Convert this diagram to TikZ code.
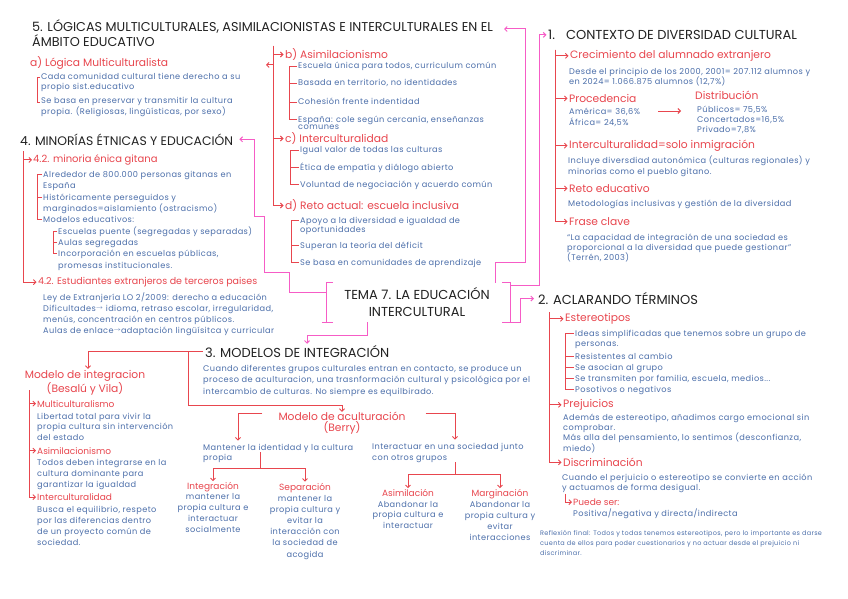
\documentclass[tikz,border=0pt]{standalone}
\usepackage{fontspec}
\setmainfont{Poppins}
\newfontfamily\bl{Poppins}[LetterSpace=5.0]
\usetikzlibrary{arrows.meta}
\definecolor{ink}{HTML}{222222}
\definecolor{rojo}{HTML}{E8464E}
\definecolor{azul}{HTML}{4C6FAA}
\definecolor{rosa}{HTML}{F65CC6}
\begin{document}
\begin{tikzpicture}[x=1pt,y=-1pt,
  >={Straight Barb[length=2.5pt,width=5pt]},
  every node/.style={inner sep=0pt,anchor=base west,align=left},
  tit/.style={text=ink,font=\fontsize{#1}{17}\selectfont},
  tit/.default=13,
  lab/.style={text=rojo,font=\fontsize{10.7}{10.5}\selectfont},
  labs/.style={text=rojo,font=\fontsize{#1}{10.5}\selectfont},
  labs/.default=9,
  txt/.style={text=azul,font=\bl\fontsize{8.2}{#1}\selectfont},
  txt/.default=11,
  rl/.style={draw=rojo,line width=0.9pt},
  pl/.style={draw=rosa,line width=1pt}]
\useasboundingbox (0,0) rectangle (848,599);
\fill[white] (0,0) rectangle (848,599);
% 5
\node[tit=12.8,font=\fontsize{12.8}{15}\selectfont] (t5) at (32,47) {5. LÓGICAS MULTICULTURALES, ASIMILACIONISTAS E INTERCULTURALES EN EL\\ÁMBITO EDUCATIVO};
\node[lab] (la) at (30,66.5) {a) Lógica Multiculturalista};
\node[txt=9.5] (a1) at (41,89.5) {Cada comunidad cultural tiene derecho a su\\propio sist.educativo};
\node[txt=9.5] (a2) at (41,114.5) {Se basa en preservar y transmitir la cultura\\propia. (Religiosas, lingüísticas, por sexo)};
\draw[rl] ([xshift=-1pt,yshift=12.5pt]a1.base west) -- ++(-3,0) |- ([xshift=-1pt,yshift=12.5pt]a2.base west);
\node[lab] (lb) at (285,58.5) {b) Asimilacionismo};
\node[txt] (b1) at (298,69) {Escuela única para todos, curriculum común};
\node[txt] (b2) at (298,86) {Basada en territorio, no identidades};
\node[txt] (b3) at (298,105) {Cohesión frente indentidad};
\node[txt=8] (b4) at (298,130) {España: cole según cercanía, enseñanzas\\comunes};
\draw[rl] ([xshift=-1.5pt,yshift=3pt]b1.base west) -- ++(-7.5,0) |- ([xshift=-1.5pt,yshift=11pt]b4.base west);
\foreach \n in {b2,b3} \draw[rl] ([xshift=-1.5pt,yshift=3pt]\n.base west) -- ++(-7.5,0);
\node[lab] (lc) at (285,142.5) {c) Interculturalidad};
\node[txt] (c1) at (300,153) {Igual valor de todas las culturas};
\node[txt] (c2) at (300,170) {Ética de empatía y diálogo abierto};
\node[txt] (c3) at (300,187) {Voluntad de negociación y acuerdo común};
\draw[rl] ([xshift=-1.5pt,yshift=3pt]c1.base west) -- ++(-8.5,0) |- ([xshift=-1.5pt,yshift=3pt]c3.base west);
\draw[rl] ([xshift=-1.5pt,yshift=3pt]c2.base west) -- ++(-8.5,0);
\node[lab] (ld) at (285,209.5) {d) Reto actual: escuela inclusiva};
\node[txt=9] (d1) at (300,232) {Apoyo a la diversidad e igualdad de\\oportunidades};
\node[txt] (d2) at (300,248) {Superan la teoría del déficit};
\node[txt] (d3) at (300,265) {Se basa en comunidades de aprendizaje};
\draw[rl] ([xshift=-1.5pt,yshift=12pt]d1.base west) -- ++(-7.5,0) |- ([xshift=-1.5pt,yshift=3pt]d3.base west);
\draw[rl] ([xshift=-1.5pt,yshift=3pt]d2.base west) -- ++(-7.5,0);
\coordinate (v5) at (273,46);
\foreach \n in {lb,lc,ld} \draw[rl,->] (v5) |- ([xshift=-1.5pt]\n.west);
\draw[rl,->] ([yshift=-2pt]v5 |- la.west) -- ++(-7,0);
% 4
\node[tit=12.4] (t4) at (20,145) {4. MINORÍAS ÉTNICAS Y EDUCACIÓN};
\node[labs=10] (l41) at (33,162.5) {4.2. minoria énica gitana};
\node[txt] (g1) at (43,188) {Alrededor de 800.000 personas gitanas en\\España};
\node[txt] (g2) at (43,211) {Históricamente perseguidos y\\marginados=aislamiento (ostracismo)};
\node[txt] (g3) at (43,222) {Modelos educativos:};
\draw[rl] ([xshift=-1pt,yshift=14pt]g1.base west) -- ++(-5,0) |- ([xshift=-1pt,yshift=3pt]g3.base west);
\draw[rl] ([xshift=-1pt,yshift=14pt]g2.base west) -- ++(-5,0);
\node[txt] (g31) at (58,234) {Escuelas puente (segregadas y separadas)};
\node[txt] (g32) at (58,245) {Aulas segregadas};
\node[txt=12] (g33) at (58,268) {Incorporación en escuelas públicas,\\promesas institucionales.};
\draw[rl] ([xshift=-1pt,yshift=3pt]g31.base west) -- ++(-4,0) |- ([xshift=-1pt,yshift=15pt]g33.base west);
\draw[rl] ([xshift=-1pt,yshift=3pt]g32.base west) -- ++(-4,0);
\node[labs=9.5] (l42) at (38,284.5) {4.2. Estudiantes extranjeros de terceros paises};
\node[txt] (e1) at (43,333) {Ley de Extranjería LO 2/2009: derecho a educación\\Dificultades\raisebox{2pt}{$\scriptstyle\rightarrow$} idioma, retraso escolar, irregularidad,\\menús, concentración en centros públicos.\\Aulas de enlace\raisebox{2pt}{$\scriptstyle\rightarrow$}adaptación lingüísitca y curricular};
\coordinate (v4) at (23,151);
\draw[rl,->] (v4) |- ([xshift=-1pt]l41.west);
\draw[rl,->] (v4) |- ([xshift=-1.5pt]l42.west);
% 1
\node[tit] (t1) at (548,39.5) {1.\hspace{11pt}CONTEXTO DE DIVERSIDAD CULTURAL};
\node[lab] (c1l) at (570,58.5) {Crecimiento del alumnado extranjero};
\node[txt=10] (c1t) at (569,85) {Desde el principio de los 2000, 2001= 207.112 alumnos y\\en 2024= 1.066.875 alumnos (12,7\%)};
\node[lab] (prl) at (569,102.5) {Procedencia};
\node[txt=10.5] (prt) at (569,125.5) {América= 36,6\%\\África= 24,5\%};
\coordinate (q0) at (658,111);
\coordinate (q1) at (681,111);
\draw[rl,->] (q0) -- (q1);
\node[lab] (dil) at (695,99.5) {Distribución};
\node[txt=10] (dit) at (697,132) {Públicos= 75,5\%\\Concertados=16,5\%\\Privado=7,8\%};
\node[lab] (inl) at (569,148.5) {Interculturalidad=solo inmigración};
\node[txt=11.5] (int) at (568,174.5) {Incluye diversdiad autonómica (culturas regionales) y\\minorías como el pueblo gitano.};
\node[lab] (rel) at (569,192.5) {Reto educativo};
\node[txt] (ret) at (568,206) {Metodologías inclusivas y gestión de la diversidad};
\node[lab] (frl) at (569,225.5) {Frase clave};
\node[txt=10.3] (frt) at (567,260.6) {“La capacidad de integración de una sociedad es\\proporcional a la diversidad que puede gestionar”\\(Terrén, 2003)};
\coordinate (v1) at (555,50);
\foreach \n in {c1l,prl,inl,rel,frl} \draw[rl,->] (v1) |- ([xshift=-1.5pt]\n.west);
% 2
\node[tit] (t2) at (538,304.5) {2. ACLARANDO TÉRMINOS};
\node[lab] (esl) at (565,321.5) {Estereotipos};
\node[txt=10.5] (es1) at (575,346.5) {Ideas simplificadas que tenemos sobre un grupo de\\personas.};
\node[txt] (es2) at (575,359) {Resistentes al cambio};
\node[txt] (es3) at (575,370) {Se asocian al grupo};
\node[txt] (es4) at (575,381) {Se transmiten por familia, escuela, medios...};
\node[txt] (es5) at (575,392) {Posotivos o negativos};
\draw[rl] ([xshift=-1.5pt,yshift=13.5pt]es1.base west) -- ++(-8.5,0) |- ([xshift=-1.5pt,yshift=3pt]es5.base west);
\foreach \n in {es2,es3,es4} \draw[rl] ([xshift=-1.5pt,yshift=3pt]\n.base west) -- ++(-8.5,0);
\node[lab] (prj) at (563,407.5) {Prejuicios};
\node[txt=10.3] (prjt) at (563,451) {Además de estereotipo, añadimos cargo emocional sin\\comprobar.\\Más alla del pensamiento, lo sentimos (desconfianza,\\miedo)};
\node[lab] (dis) at (563,466.5) {Discriminación};
\node[txt=10.5] (dist) at (562,490.5) {Cuando el perjuicio o estereotipo se convierte en acción\\y actuamos de forma desigual.};
\node[labs] (pue) at (573,505.5) {Puede ser:};
\node[txt] (puet) at (573,516.5) {Positiva/negativa y directa/indirecta};
\draw[rl,->] ([xshift=3pt,yshift=-1pt]dist.south west) |- ([xshift=-1pt]pue.west);
\coordinate (v2) at (549,312);
\foreach \n in {esl,prj,dis} \draw[rl,->] (v2) |- ([xshift=-1.5pt]\n.west);
\node[text=azul,font=\bl\fontsize{6.5}{10}\selectfont] (ref) at (540,555) {Reflexión final: Todos y todas tenemos estereotipos, pero lo importante es darse\\cuenta de ellos para poder cuestionarios y no actuar desde el prejuicio ni\\discriminar.};
% 3
\node[tit] (t3) at (205,357) {3. MODELOS DE INTEGRACIÓN};
\node[txt=11.5] (t3t) at (203,394) {Cuando diferentes grupos culturales entran en contacto, se produce un\\proceso de aculturacion, una trasnformación cultural y psicológica por el\\intercambio de culturas. No siempre es equilbirado.};
\node[lab,anchor=base,align=center] (mi) at (85,392) {Modelo de integracion\\(Besalú y Vila)};
\node[lab,anchor=base,align=center] (ma) at (342,431) {Modelo de aculturación\\(Berry)};
\draw[rl] ([xshift=-2pt]t3.west) -- ++(-15,0) coordinate (s3);
\draw[rl,->] (s3) -| ([xshift=3pt,yshift=1pt]mi.north);
\draw[rl,->] (s3) |- ([yshift=6pt]ma.north) -- (ma.north);
\node[labs] (m1l) at (37,407) {Multiculturalismo};
\node[txt=10.5] (m1t) at (37,440) {Libertad total para vivir la\\propia cultura sin intervención\\del estado};
\node[labs] (m2l) at (37,454) {Asimilacionismo};
\node[txt] (m2t) at (37,487) {Todos deben integrarse en la\\cultura dominante para\\garantizar la igualdad};
\node[labs] (m3l) at (37,500.5) {Interculturalidad};
\node[txt] (m3t) at (37,545) {Busca el equilibrio, respeto\\por las diferencias dentro\\de un proyecto común de\\sociedad.};
\coordinate (v3) at (29,390);
\foreach \n in {m1l,m2l,m3l} \draw[rl,->] (v3) |- ([xshift=-1pt]\n.west);
\node[txt=10.5] (mt) at (203,460.5) {Mantener la identidad y la cultura\\propia};
\node[txt] (it) at (372,460) {Interactuar en una sociedad junto\\con otros grupos};
\draw[rl,->] ([yshift=18pt,xshift=-16pt]ma.base west) -| ([xshift=35pt,yshift=3pt]mt.north west);
\draw[rl,->] ([yshift=18pt,xshift=20pt]ma.base east) -| ([xshift=83pt,yshift=3pt]it.north west);
\coordinate (j1) at (260,468);
\coordinate (j2) at (455,474);
\draw[rl] ([xshift=57pt,yshift=8.5pt]mt.base west) -- (j1);
\draw[rl] ([xshift=83pt]it.south west) -- (j2);
\node[labs,anchor=base,align=center] (igl) at (213,489.5) {Integración};
\node[txt=10.7,anchor=base,align=center] (igt) at (213,532) {mantener la\\propia cultura e\\interactuar\\socialmente};
\node[labs,anchor=base,align=center] (spl) at (305,490) {Separación};
\node[txt=11.2,anchor=base,align=center] (spt) at (305,557) {mantener la\\propia cultura y\\evitar la\\interacción con\\la sociedad de\\acogida};
\node[labs,anchor=base,align=center] (asl) at (408,496.5) {Asimilación};
\node[txt=10.7,anchor=base,align=center] (ast) at (408,528.4) {Abandonar la\\propia cultura e\\interactuar};
\node[labs,anchor=base,align=center] (mgl) at (500,496.5) {Marginación};
\node[txt,anchor=base,align=center] (mgt) at (500,540) {Abandonar la\\propia cultura y\\evitar\\interacciones};
\draw[rl,->] (j1) -| ([yshift=1pt]igl.north);
\draw[rl,->] (j1) -| ([yshift=1pt]spl.north);
\draw[rl,->] (j2) -| ([yshift=1pt]asl.north);
\draw[rl,->] (j2) -| ([yshift=1pt]mgl.north);
% tema
\node[tit,anchor=base,align=center] (tema) at (417,316) {TEMA 7. LA EDUCACIÓN\\INTERCULTURAL};
\node[anchor=center,minimum width=183pt,minimum height=39pt] (box) at (418.5,302.5) {};
\draw[pl] ([xshift=6pt]box.north west) -- (box.north west) -- (box.south west) -- ++(6,0);
\draw[pl] ([xshift=-5pt]box.south west) -- (box.south west);
\draw[pl] ([xshift=-8pt]box.north east) -- (box.north east) -- (box.south east) -- ++(-8,0);
\coordinate (k5) at (525,262);
\coordinate (e5) at (504,29);
\coordinate (p3a) at (367,335);
\coordinate (p3b) at (307,335);
\draw[pl,->] ([xshift=-15pt]box.north east) |- (k5) |- (e5);
\draw[pl,->] ([yshift=-3pt]box.north east) -| ([xshift=-9pt]t1.west) -- ([xshift=-1.5pt]t1.west);
\draw[pl,->] (box.south east) -| ([xshift=-18pt]t2.west) -- ([xshift=-4pt]t2.west);
\draw[pl,->,shorten >=1pt] (box.south -| p3a) -- (p3a) -- (p3b) -- (p3b |- t3.north);
\draw[pl,->] ([yshift=-10pt]box.north west) -- ++(-37,0) -- ++(0,-20) -- ++(-25,0) -- ++(0,-56) -- ++(-10,0) |- ([xshift=6pt]t4.east);
\end{tikzpicture}
\end{document}
